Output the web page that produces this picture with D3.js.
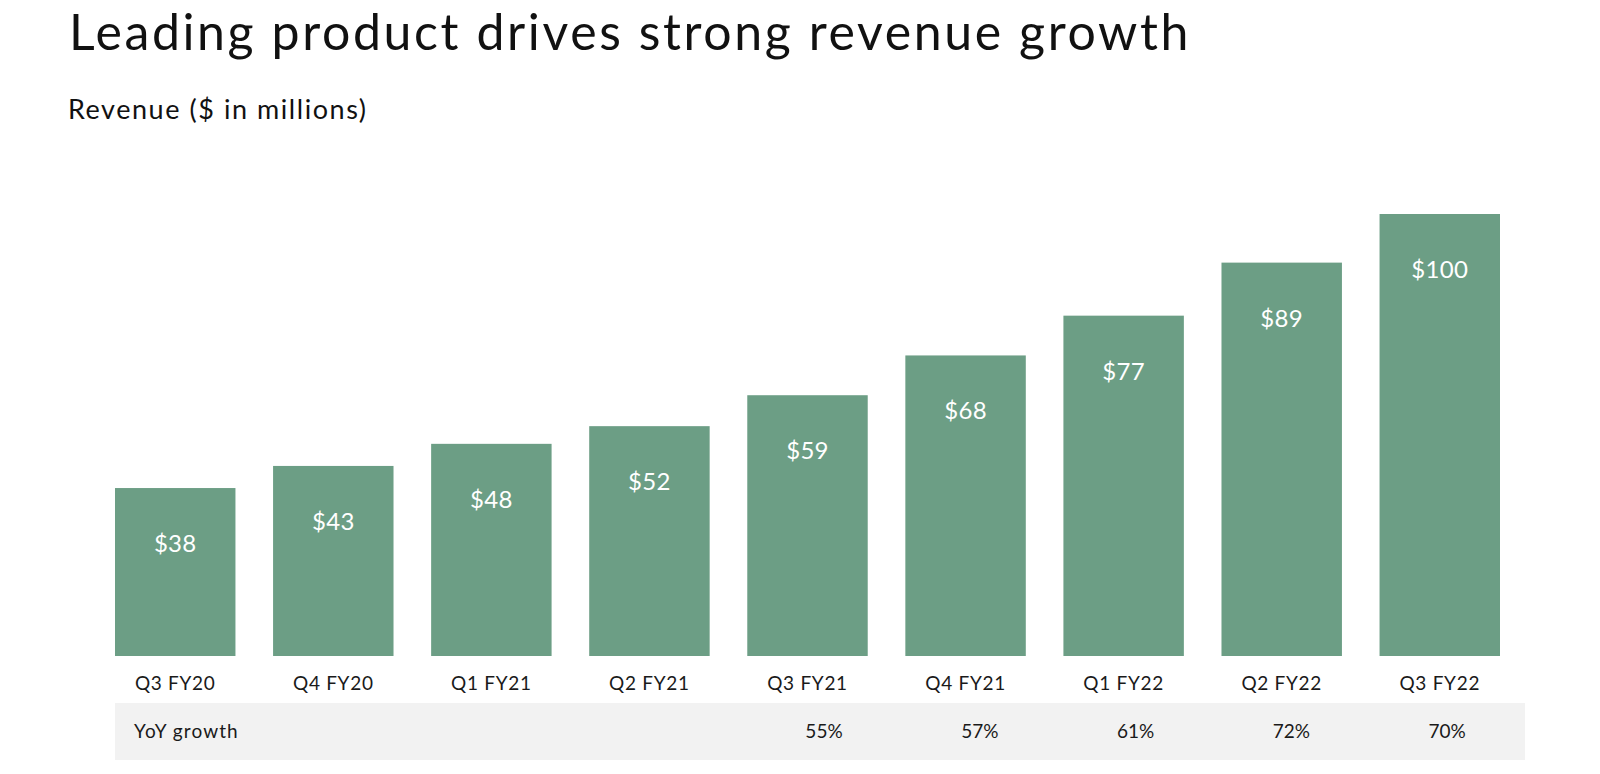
<!DOCTYPE html>
<html>
<head>
<meta charset="utf-8">
<script src="https://cdn.jsdelivr.net/npm/d3@7"></script>
<style>
  html, body { margin: 0; padding: 0; background: #ffffff; }
  svg { display: block; }
  text { font-family: Lato, "Noto Sans", sans-serif; }
</style>
</head>
<body>
<svg id="chart" width="1600" height="774"></svg>
<script>
const categories = ["Q3 FY20", "Q4 FY20", "Q1 FY21", "Q2 FY21", "Q3 FY21", "Q4 FY21", "Q1 FY22", "Q2 FY22", "Q3 FY22"];
const revenue = [38, 43, 48, 52, 59, 68, 77, 89, 100];
const yoyGrowth = [null, null, null, null, 55, 57, 61, 72, 70];
const titleText = "Leading product drives strong revenue growth";
const subtitleText = "Revenue ($ in millions)";
const tableLabel = "YoY growth";

const svg = d3.select("#chart");

const x = d3.scaleBand().domain(categories).range([115, 1500]).paddingInner(0.238).paddingOuter(0);
const y = d3.scaleLinear().domain([0, 100]).range([656, 214]);
const xTable = d3.scaleBand().domain(categories).range([123, 1525]).padding(0);

// Title
svg.append("text").attr("x", 69).attr("y", 50)
  .attr("font-size", 50).attr("letter-spacing", 2.6).attr("fill", "#111").text(titleText);
svg.append("text").attr("x", 68).attr("y", 119)
  .attr("font-size", 27).attr("letter-spacing", 1.55).attr("fill", "#111").text(subtitleText);

// Bars
svg.append("g").selectAll("rect").data(categories).join("rect")
  .attr("x", d => x(d)).attr("width", x.bandwidth())
  .attr("y", (d, i) => y(revenue[i]))
  .attr("height", (d, i) => y(0) - y(revenue[i]))
  .attr("fill", "#6c9e85");

// Value labels
svg.append("g").selectAll("text").data(categories).join("text")
  .attr("x", d => x(d) + x.bandwidth() / 2)
  .attr("y", (d, i) => y(revenue[i]) + 64)
  .attr("text-anchor", "middle").attr("font-size", 24).attr("letter-spacing", 0.3).attr("fill", "#ffffff")
  .text((d, i) => "$" + revenue[i]);

// Category axis
const xAxis = d3.axisBottom(x).tickSize(0).tickPadding(0);
const axisG = svg.append("g").attr("transform", "translate(0,676)").call(xAxis);
axisG.select(".domain").remove();
axisG.selectAll("text").attr("font-size", 19).attr("letter-spacing", 0.7).attr("fill", "#1a1a1a")
  .attr("font-family", "Lato, sans-serif").attr("dy", "0.72em");

// YoY table
svg.append("rect").attr("x", 115).attr("y", 703).attr("width", 1410).attr("height", 57).attr("fill", "#f2f2f2");
svg.append("text").attr("x", 134).attr("y", 738).attr("font-size", 19).attr("letter-spacing", 1.1).attr("fill", "#1a1a1a").text(tableLabel);
svg.append("g").selectAll("text").data(categories.filter((d, i) => yoyGrowth[i] != null)).join("text")
  .attr("x", d => xTable(d) + xTable.bandwidth() / 2)
  .attr("y", 738)
  .attr("text-anchor", "middle").attr("font-size", 19).attr("fill", "#1a1a1a")
  .text(d => yoyGrowth[categories.indexOf(d)] + "%");
</script>
</body>
</html>
